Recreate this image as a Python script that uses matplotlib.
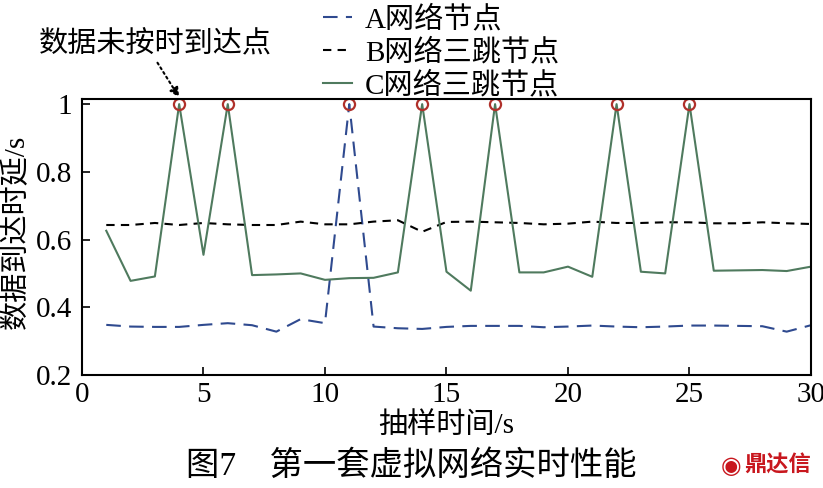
import matplotlib.pyplot as plt
import numpy as np

plt.rcParams['font.family'] = ['Liberation Serif', 'Noto Sans CJK SC']
plt.rcParams['mathtext.fontset'] = 'stix'

t = np.arange(1, 31)

# A网络节点
a_delay = [0.348, 0.343, 0.342, 0.342, 0.348, 0.353, 0.347, 0.328, 0.365, 0.353,
           1.0, 0.343, 0.338, 0.336, 0.342, 0.345, 0.345, 0.345, 0.341, 0.343,
           0.346, 0.343, 0.341, 0.343, 0.346, 0.346, 0.345, 0.344, 0.328, 0.347]
# B网络三跳节点
b_delay = [0.643, 0.643, 0.649, 0.643, 0.649, 0.645, 0.643, 0.643, 0.653, 0.645,
           0.645, 0.653, 0.657, 0.623, 0.652, 0.653, 0.651, 0.649, 0.645, 0.647,
           0.653, 0.649, 0.649, 0.651, 0.651, 0.648, 0.648, 0.651, 0.648, 0.646]
# C网络三跳节点
c_delay = [0.626, 0.478, 0.491, 1.0, 0.555, 1.0, 0.495, 0.497, 0.500, 0.481,
           0.486, 0.487, 0.503, 1.0, 0.505, 0.449, 1.0, 0.503, 0.503, 0.520,
           0.490, 1.0, 0.505, 0.500, 1.0, 0.508, 0.509, 0.510, 0.507, 0.520]

# 数据未按时到达点
late_t = [4, 6, 11, 14, 17, 22, 25]
late_v = [1.0] * len(late_t)

fig = plt.figure(figsize=(8.23, 4.88), dpi=100)
ax = fig.add_axes([0.0996, 0.2316, 0.8858, 0.5654])

ax.plot(t, a_delay, color='#2f4a8f', lw=1.5, ls=(0, (7, 4)), label='A网络节点')
ax.plot(t, b_delay, color='black', lw=1.5, ls=(0, (4, 3)), label='B网络三跳节点')
ax.plot(t, c_delay, color='#4f7a5e', lw=1.5, label='C网络三跳节点')
ax.plot(late_t, late_v, ls='none', marker='o', ms=8, mfc='none', mec='#b0302a', mew=1.6)

ax.set_xlim(0, 30)
ax.set_ylim(0.2, 1.015)
ax.set_xticks([0, 5, 10, 15, 20, 25, 30])
ax.set_yticks([0.2, 0.4, 0.6, 0.8, 1.0])
ax.set_yticklabels(['0.2', '0.4', '0.6', '0.8', '1'])
ax.tick_params(direction='in', labelsize=21, length=6, width=1.2)
ax.tick_params(axis='y', pad=7)
ax.tick_params(axis='x', pad=5)
for s in ax.spines.values():
    s.set_linewidth(1.5)

ax.set_xlabel('抽样时间/s', fontsize=21, labelpad=3)
ax.set_ylabel('数据到达时延/s', fontsize=21, labelpad=0)
ax.yaxis.set_label_coords(-0.071, 0.52)

ax.annotate('数据未按时到达点', xy=(4, 1.02), xycoords='data',
            xytext=(155, 488 - 45), textcoords='figure pixels',
            fontsize=21, ha='center', va='center', annotation_clip=False,
            arrowprops=dict(arrowstyle='-|>', ls=':', lw=1.5, color='black',
                            mutation_scale=14, shrinkA=1, shrinkB=0,
                            relpos=(0.5, 0.0)))

leg = fig.legend(loc='upper left', bbox_to_anchor=(0.378, 1.012), frameon=False,
                 fontsize=21, handlelength=1.0, handletextpad=0.45,
                 labelspacing=0.18, borderaxespad=0)

fig.text(0.5, 0.045, '图7\u3000第一套虚拟网络实时性能', fontsize=24, ha='center', va='center')
fig.text(0.945, 0.045, '鼎达信', fontsize=16, color='#c8171e', weight='bold',
         ha='center', va='center')
fig.text(0.888, 0.045, '\u25c9', fontsize=17, color='#c8171e', ha='center', va='center',
         family=['DejaVu Sans'])

fig.savefig('out.png', dpi=100)
